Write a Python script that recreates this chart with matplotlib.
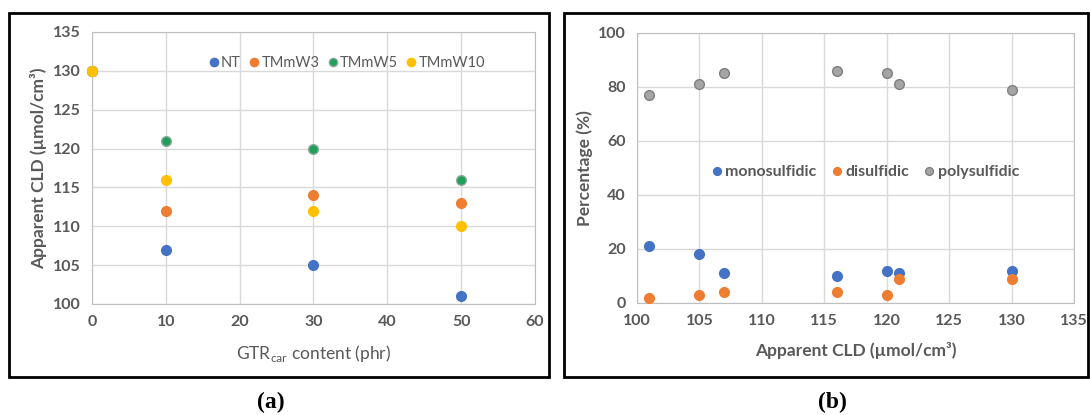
import matplotlib.pyplot as plt
from matplotlib.patches import Rectangle

# panel (a): apparent CLD vs GTR content
gtr = [0, 10, 30, 50]
nt = [130, 107, 105, 101]
tmmw3 = [130, 112, 114, 113]
tmmw5 = [130, 121, 120, 116]
tmmw10 = [130, 116, 112, 110]

# panel (b): crosslink type vs apparent CLD
cld = [101, 105, 107, 116, 120, 121, 130]
mono = [21, 18, 11, 10, 12, 11, 12]
di = [2, 3, 4, 4, 3, 9, 9]
poly = [77, 81, 85, 86, 85, 81, 79]

plt.rcParams['font.family'] = ['Lato', 'DejaVu Sans']
plt.rcParams['mathtext.fontset'] = 'custom'
plt.rcParams['mathtext.rm'] = 'Lato'
tick_col = '#595959'
grid_col = '#D9D9D9'


def style_axes(ax):
    ax.grid(True, color=grid_col, linewidth=1)
    ax.set_axisbelow(True)
    for s in ax.spines.values():
        s.set_color('#BFBFBF')
    ax.tick_params(length=0, labelsize=11.5, colors=tick_col, pad=8)
    for lab in ax.get_xticklabels() + ax.get_yticklabels():
        lab.set_fontweight('bold')


fig = plt.figure(figsize=(10.9, 4.15), dpi=100)

# outer frames
fig.patches.append(Rectangle((0.0083, 0.0916), 0.4954, 0.877, transform=fig.transFigure,
                             fill=False, edgecolor='black', linewidth=2))
fig.patches.append(Rectangle((0.5174, 0.0916), 0.4806, 0.877, transform=fig.transFigure,
                             fill=False, edgecolor='black', linewidth=2))

# (a)
ax1 = fig.add_axes([0.0844, 0.2675, 0.4064, 0.6555])
series = [(nt, 'NT', '#4472C4', '#4472C4'),
          (tmmw3, 'TMmW3', '#ED7D31', '#ED7D31'),
          (tmmw5, 'TMmW5', '#1FA05A', '#8FA89A'),
          (tmmw10, 'TMmW10', '#FFC000', '#FFC000')]
for vals, name, c, ec in series:
    ax1.plot(gtr, vals, 'o', color=c, markeredgecolor=ec, markersize=7, label=name,
             clip_on=False, zorder=3)
ax1.set_xlim(0, 60)
ax1.set_ylim(100, 135)
ax1.set_xticks(range(0, 61, 10))
ax1.set_yticks(range(100, 136, 5))
style_axes(ax1)
ax1.set_ylabel('Apparent CLD (µmol/cm³)', fontsize=12.5, color=tick_col, fontweight='bold')
ax1.set_xlabel(r'GTR$_{\mathrm{car}}$ content (phr)', fontsize=12.5, color=tick_col, labelpad=10)
ax1.legend(loc='center', bbox_to_anchor=(0.576, 0.885), ncol=4, frameon=False,
           fontsize=10.5, handlelength=0.6, handletextpad=0.2, columnspacing=0.6,
           markerscale=0.85, labelcolor=tick_col)

# (b)
ax2 = fig.add_axes([0.5844, 0.2700, 0.4009, 0.6505])
ax2.plot(cld, mono, 'o', color='#4472C4', markersize=7, label='monosulfidic', zorder=3)
ax2.plot(cld, di, 'o', color='#ED7D31', markersize=7, label='disulfidic', zorder=3)
ax2.plot(cld, poly, 'o', color='#A5A5A5', markeredgecolor='#7F7F7F', markersize=7,
         label='polysulfidic', zorder=3)
ax2.set_xlim(100, 135)
ax2.set_ylim(0, 100)
ax2.set_xticks(range(100, 136, 5))
ax2.set_yticks(range(0, 101, 20))
style_axes(ax2)
ax2.set_ylabel('Percentage (%)', fontsize=12.5, color=tick_col, fontweight='bold')
ax2.set_xlabel('Apparent CLD (µmol/cm³)', fontsize=12.5, color=tick_col, fontweight='bold',
               labelpad=10)
leg = ax2.legend(loc='center', bbox_to_anchor=(0.524, 0.485), ncol=3, frameon=False,
                 fontsize=11.5, handlelength=0.5, handletextpad=0.3, columnspacing=1.0,
                 markerscale=0.8, labelcolor=tick_col)
for t in leg.get_texts():
    t.set_fontweight('bold')

fig.text(0.248, 0.03, '(a)', fontsize=17, fontfamily='Liberation Serif', fontweight='bold',
         ha='center', va='center')
fig.text(0.764, 0.03, '(b)', fontsize=17, fontfamily='Liberation Serif', fontweight='bold',
         ha='center', va='center')

fig.savefig('out.png', dpi=100)
